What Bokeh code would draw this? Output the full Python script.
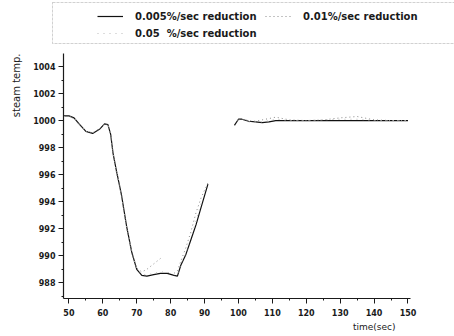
from bokeh.plotting import figure
from bokeh.models import Range1d, Legend, LegendItem, FixedTicker, BoxAnnotation, Title
from bokeh.layouts import column, row
from bokeh.embed import file_html
from bokeh.resources import INLINE

nan = float("nan")

time = [48.5, 50, 51.5, 53, 55, 57, 59, 60.5, 61.5, 62.3, 63, 64, 65.5, 67, 68.5,
        70, 71.5, 73, 75, 77, 79, 81, 82, 83, 84.5, 86, 87.5, 89, 91, 93, 98.8,
        100, 101, 103, 105, 107, 109, 111, 115, 120, 125, 130, 135, 140, 145, 150]

temp_0005 = [1000.35, 1000.35, 1000.2, 999.75, 999.2, 999.05, 999.35, 999.75, 999.7,
             999.0, 997.6, 996.3, 994.5, 992.2, 990.3, 989.0, 988.55, 988.5, 988.6,
             988.7, 988.7, 988.55, 988.5, 989.3, 990.1, 991.2, 992.3, 993.6, 995.3,
             nan, 999.65, 1000.1, 1000.1, 999.95, 999.9, 999.85, 999.9, 1000.0,
             1000.0, 1000.0, 1000.0, 1000.0, 1000.0, 1000.0, 1000.0, 1000.0]

temp_001 = [1000.3, 1000.3, 1000.15, 999.7, 999.2, 999.1, 999.4, 999.75, 999.65,
            999.0, 997.6, 996.2, 994.4, 992.1, 990.2, 989.1, 988.8, 989.0, 989.4,
            989.8, nan, 988.7, 988.9, 989.6, 990.6, 991.8, 993.2, 994.3, 995.4,
            nan, nan, 1000.05, 1000.1, 1000.0, 999.95, 1000.05, 1000.15, 1000.25,
            1000.05, 1000.0, 1000.05, 1000.2, 1000.3, 1000.05, 1000.0, 1000.0]

temp_005 = [1000.3, 1000.3, 1000.2, 999.75, 999.25, 999.1, 999.4, 999.7, 999.7,
            999.1, 997.7, 996.4, 994.6, 992.3, 990.4, 989.1, 988.6, 988.6, 988.7,
            988.8, 988.8, 988.6, 988.6, 989.4, 990.2, 991.4, 992.6, 993.9, nan,
            nan, 999.6, 1000.05, 1000.05, 999.9, 999.9, 999.9, 1000.0, 1000.1,
            1000.0, 1000.0, 1000.05, 1000.1, 1000.1, 1000.0, 1000.0, 1000.0]

series_labels = ["0.005%/sec reduction", "0.01%/sec reduction", "0.05  %/sec reduction"]
x_ticks = [50, 60, 70, 80, 90, 100, 110, 120, 130, 140, 150]
y_ticks = [988, 990, 992, 994, 996, 998, 1000, 1002, 1004]

FONT = "DejaVu Sans"
INK = "#1a1a1a"
styles = [dict(line_color="#111111", line_width=1.2),
          dict(line_color="#888888", line_width=1.0, line_dash="1 3"),
          dict(line_color="#bbbbbb", line_width=1.0, line_dash="1 5")]

# ---------------- main chart ----------------
p = figure(width=454, height=283, output_backend="svg", toolbar_location=None,
           x_range=Range1d(48.4, 150.74), y_range=Range1d(986.84, 1004.96),
           min_border_left=62, min_border_right=44, min_border_top=0,
           min_border_bottom=38)
p.outline_line_color = None
p.grid.visible = False

for t, st in zip([temp_0005, temp_001, temp_005], styles):
    p.line(time, t, **st)

for ax in (p.xaxis[0], p.yaxis[0]):
    ax.axis_line_color = INK
    ax.axis_line_width = 1.2
    ax.major_tick_line_color = INK
    ax.minor_tick_line_color = INK
    ax.major_tick_out = 5
    ax.major_tick_in = 0
    ax.minor_tick_out = 2
    ax.minor_tick_in = 0
    ax.major_label_text_font = FONT
    ax.major_label_text_font_style = "bold"
    ax.major_label_text_font_size = "8px"
    ax.major_label_text_color = INK

p.xaxis[0].ticker = FixedTicker(ticks=x_ticks, minor_ticks=[v + 5 for v in x_ticks[:-1]])
p.yaxis[0].ticker = FixedTicker(ticks=y_ticks, minor_ticks=[v + 1 for v in y_ticks] + [987])
p.xaxis[0].major_label_standoff = 5
p.yaxis[0].major_label_standoff = 3

p.add_layout(Title(text="steam temp.", align="right", offset=0, standoff=17,
                   text_font=FONT, text_font_style="normal", text_font_size="10px",
                   text_color=INK), "left")
p.add_layout(Title(text="time(sec)", align="right", offset=15, standoff=3,
                   text_font=FONT, text_font_style="normal", text_font_size="9px",
                   text_color=INK), "below")

# ---------------- legend strip ----------------
leg = figure(width=454, height=53, output_backend="svg", toolbar_location=None,
             x_range=Range1d(0, 454), y_range=Range1d(0, 53),
             min_border_left=0, min_border_right=0, min_border_top=0,
             min_border_bottom=0)
leg.axis.visible = False
leg.grid.visible = False
leg.outline_line_color = None

# off-view stand-ins so the legend can draw each series' line sample
dummy = [leg.line([-50, -40], [-50, -40], **st) for st in styles]
leg.add_layout(BoxAnnotation(left=52, right=470, top=51, bottom=10,
                             fill_alpha=0, line_color="#666666", line_width=1,
                             line_dash="3 1"))

legend = Legend(items=[LegendItem(label=series_labels[0], renderers=[dummy[0]]),
                       LegendItem(label=series_labels[2], renderers=[dummy[2]]),
                       LegendItem(label=series_labels[1], renderers=[dummy[1]])],
                ncols=2, location=(97, 13), border_line_color=None,
                background_fill_alpha=0, padding=0, spacing=3, margin=0,
                glyph_width=26, glyph_height=14, label_height=14,
                label_standoff=12, label_text_font=FONT,
                label_text_font_style="bold", label_text_font_size="10px",
                label_text_color=INK, label_width=127)
leg.add_layout(legend, "center")

open("out.html", "w").write(file_html(column(row(leg), p, spacing=0), INLINE))
